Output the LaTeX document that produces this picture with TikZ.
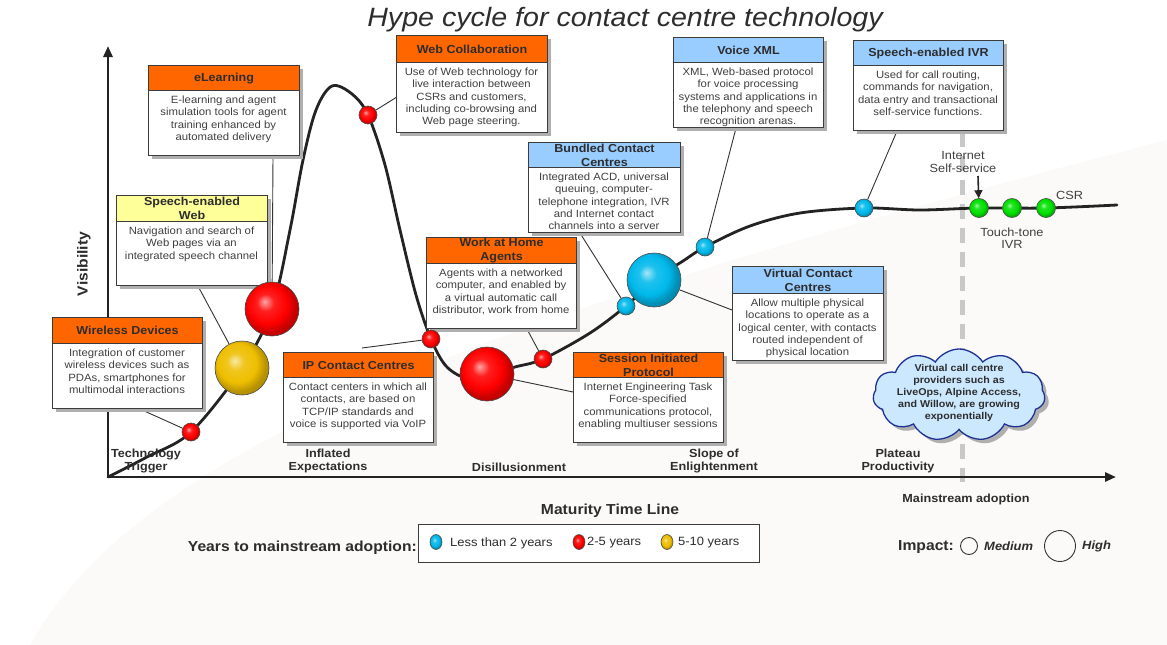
\documentclass[tikz,border=0pt]{standalone}
\usepackage{fontspec}
\setmainfont[FakeStretch=1.08]{Liberation Sans}
\usetikzlibrary{shapes.geometric,shapes.symbols,arrows.meta,calc}
\definecolor{orangeT}{RGB}{255,102,0}
\definecolor{blueT}{RGB}{153,204,255}
\definecolor{yellowT}{RGB}{255,255,153}
\definecolor{boxline}{RGB}{60,60,60}
\definecolor{txt}{RGB}{64,64,64}
\definecolor{ttxt}{RGB}{45,45,45}
\definecolor{shadowc}{RGB}{175,175,175}
\definecolor{bgc}{RGB}{251,250,248}
\definecolor{ballred}{RGB}{255,0,0}
\definecolor{ballyel}{RGB}{238,190,0}
\definecolor{ballcyan}{RGB}{0,185,235}
\definecolor{ballgreen}{RGB}{0,225,0}
\definecolor{cloudfill}{RGB}{204,232,255}
\definecolor{cloudline}{RGB}{30,50,150}
\definecolor{dashc}{RGB}{200,200,200}
\definecolor{curvec}{RGB}{35,35,35}
\pgfdeclarelayer{back}
\pgfdeclarelayer{lines}
\pgfsetlayers{back,lines,main}
\makeatletter
\pgfdeclareradialshading[tikz@ball]{glossball}{\pgfqpoint{-7bp}{7bp}}{%
  color(0bp)=(tikz@ball!35!white);
  color(8bp)=(tikz@ball!88!white);
  color(18bp)=(tikz@ball);
  color(25bp)=(tikz@ball!78!black);
  color(50bp)=(tikz@ball!50!black)}
\makeatother

\newcommand\infobox[9]{%
  \pgfmathsetmacro\bw{#3-#2}%
  \pgfmathsetmacro\th{#5-#4}%
  \pgfmathsetmacro\bh{#6-#5}%
  \pgfmathsetmacro\cx{(#2+#3)/2}%
  \fill[shadowc] (#2+4,#4+4) rectangle (#3+4,#6+4);
  \node[tband, fill=#7, minimum width=\bw pt, minimum height=\th pt, anchor=north west] (#1t) at (#2,#4) {};
  \node[bbox, minimum width=\bw pt, minimum height=\bh pt, anchor=north west] (#1) at (#2,#5) {};
  \node[ttext] (#1tt) at (#1t.center) {#8};
  \node[btext, anchor=north] (#1bt) at (\cx,#5+5.5) {#9};
}

\begin{document}
\begin{tikzpicture}[x=1pt,y=-1pt,
  tband/.style={draw=boxline, line width=1.1pt, inner sep=0},
  bbox/.style={draw=boxline, line width=1.1pt, fill=white, inner sep=0},
  ttext/.style={font=\fontsize{11.6}{14}\selectfont\bfseries, text=ttxt, align=center, inner sep=0},
  btext/.style={font=\fontsize{10.5}{12.4}\selectfont, text=txt, align=center, inner sep=0},
  hball/.style={circle, ball color=#1, shading=glossball, draw=black!70, line width=0.6pt, inner sep=0},
  smallb/.style={hball=#1, minimum size=18pt},
  bigb/.style={hball=#1, minimum size=54pt},
  conn/.style={draw=black!80, line width=0.9pt},
  ptext/.style={font=\fontsize{11.7}{12.5}\selectfont\bfseries, text=ttxt, align=center, inner sep=0},
  ltext/.style={font=\fontsize{12}{14}\selectfont, text=ttxt, inner sep=0},
  lbold/.style={font=\fontsize{14.5}{16}\selectfont\bfseries, text=ttxt, inner sep=0},
  stext/.style={font=\fontsize{11.8}{12.5}\selectfont, text=txt, align=center, inner sep=0},
  lmark/.style={ellipse, ball color=#1, shading=glossball, draw=black!70, line width=0.6pt, inner sep=0, minimum width=12pt, minimum height=15pt}
]
\useasboundingbox (0,0) rectangle (1167,645);

\begin{pgfonlayer}{back}
\fill[white] (0,0) rectangle (1167,645);
\fill[bgc] (0,645) -- (30,645) .. controls (150,430) and (550,300) .. (1167,140) -- (1167,645) -- cycle;
\end{pgfonlayer}

% title
\node[font=\fontsize{26.5}{30}\selectfont\itshape, text=ttxt, inner sep=0] (title) at (625,20) {Hype cycle for contact centre technology};

% info boxes
\infobox{elearn}{148}{299}{65}{90}{155}{orangeT}{eLearning}{E-learning and agent\\simulation tools for agent\\training enhanced by\\automated delivery}
\infobox{sweb}{116}{267}{195}{221}{285}{yellowT}{Speech-enabled\\Web}{Navigation and search of\\Web pages via an\\integrated speech channel}
\infobox{wless}{52}{202}{317}{343}{408}{orangeT}{Wireless Devices}{Integration of customer\\wireless devices such as\\PDAs, smartphones for\\multimodal interactions}
\infobox{wcol}{396}{547}{35}{62}{132}{orangeT}{Web Collaboration}{Use of Web technology for\\live interaction between\\CSRs and customers,\\including co-browsing and\\Web page steering.}
\infobox{ipcc}{283}{433}{352}{377}{442}{orangeT}{IP Contact Centres}{Contact centers in which all\\contacts, are based on\\TCP/IP standards and\\voice is supported via VoIP}
\infobox{wah}{426}{576}{237}{263}{328}{orangeT}{Work at Home\\Agents}{Agents with a networked\\computer, and enabled by\\a virtual automatic call\\distributor, work from home}
\infobox{sip}{573}{723}{352}{377}{442}{orangeT}{Session Initiated\\Protocol}{Internet Engineering Task\\Force-specified\\communications protocol,\\enabling multiuser sessions}
\infobox{vcc}{732}{883}{266}{293}{360}{blueT}{Virtual Contact\\Centres}{Allow multiple physical\\locations to operate as a\\logical center, with contacts\\routed independent of\\physical location}
\infobox{bcc}{528}{680}{142}{167}{232}{blueT}{Bundled Contact\\Centres}{Integrated ACD, universal\\queuing, computer-\\telephone integration, IVR\\and Internet contact\\channels into a server}
\infobox{vxml}{673}{823}{37}{62}{127}{blueT}{Voice XML}{XML, Web-based protocol\\for voice processing\\systems and applications in\\the telephony and speech\\recognition arenas.}
\infobox{sivr}{853}{1003}{40}{65}{130}{blueT}{Speech-enabled IVR}{Used for call routing,\\commands for navigation,\\data entry and transactional\\self-service functions.}

% balls
\node[smallb=ballred] (b1) at (191,432) {};
\node[bigb=ballyel] (b2) at (242,368) {};
\node[bigb=ballred] (b3) at (272,309) {};
\node[smallb=ballred] (b4) at (368,115) {};
\node[smallb=ballred] (b5) at (431,339) {};
\node[bigb=ballred] (b6) at (487,374) {};
\node[smallb=ballred] (b7) at (543,359) {};
\node[smallb=ballcyan] (b8) at (626,306) {};
\node[bigb=ballcyan] (b9) at (654,280) {};
\node[smallb=ballcyan] (b10) at (705,247) {};
\node[smallb=ballcyan] (b11) at (864,208) {};
\node[hball=ballgreen, minimum size=19pt] (g1) at (979,208) {};
\node[hball=ballgreen, minimum size=19pt] (g2) at (1012,208) {};
\node[hball=ballgreen, minimum size=19pt] (g3) at (1046,208) {};

% axes and lines
\coordinate (orig) at (108,477);
\coordinate (ytip) at (108,46);
\coordinate (xtip) at (1116,477);
\coordinate (dtop) at (962,132);
\coordinate (dbot) at (962,482);
\coordinate (ipend) at (362,348);
\coordinate (arst) at (978,176);
\begin{pgfonlayer}{lines}
\draw[dashc, line width=5pt, dash pattern=on 15pt off 9pt] (dtop) -- (dbot);
\draw[curvec, line width=2.8pt, -{Triangle[length=11pt,width=9pt]}] (orig) -- (ytip);
\draw[curvec, line width=2.8pt, -{Triangle[length=11pt,width=9pt]}] (orig) -- (xtip);
\draw[conn] ([xshift=125pt]elearn.south west) -- (b3);
\draw[conn] ([xshift=82pt]sweb.south west) -- (b2);
\draw[conn] ([xshift=88pt]wless.south west) -- (b1);
\draw[conn] (wcol.west) -- (b4);
\draw[conn] (ipend) -- (b5);
\draw[conn] ([xshift=101pt]wah.south west) -- (b7);
\draw[conn] (b6) -- ([yshift=-15pt]sip.north west);
\draw[conn] ([xshift=52pt]bcc.south west) -- (b8);
\draw[conn] ([xshift=63pt]vxml.south west) -- (b10);
\draw[conn] (b9) -- ([yshift=-17pt]vcc.north west);
\draw[conn] ([xshift=44pt]sivr.south west) -- (b11);
\draw[curvec, line width=2.8pt, line cap=round] plot[smooth, tension=0.55] coordinates {(108,477) (147,457) (191,432) (242,368) (272,309) (290,230) (303,160) (316,110) (332,86) (352,94) (368,115) (385,165) (400,230) (416,295) (431,339) (446,366) (466,378) (487,375) (515,367) (543,359) (590,333) (626,306) (654,280) (683,261) (705,247) (750,226) (800,213) (864,208) (920,210) (979,208) (1046,208) (1117,205)};
\draw[black!85, line width=1.6pt, -{Triangle[length=8pt,width=8pt]}] (arst) -- (g1);
\end{pgfonlayer}

% labels near plateau
\node[stext] (inet) at (963,162) {Internet\\Self-service};
\node[stext, anchor=west] (csr) at (1056,195) {CSR};
\node[stext] (ttivr) at (1012,238) {Touch-tone\\IVR};

% cloud
\node[cloud, cloud puffs=11, cloud puff arc=115, aspect=2, minimum width=172pt, minimum height=92pt, inner sep=0, fill=shadowc] (cls) at (963,399) {};
\node[cloud, cloud puffs=11, cloud puff arc=115, aspect=2, minimum width=172pt, minimum height=92pt, inner sep=0, fill=cloudfill, draw=cloudline, line width=1.3pt] (cl) at (959,395) {};
\node[font=\fontsize{9.9}{12.2}\selectfont\bfseries, text=ttxt, align=center, inner sep=0] (clt) at (959,393) {Virtual call centre\\providers such as\\LiveOps, Alpine Access,\\and Willow, are growing\\exponentially};

% axis labels
\node[lbold, rotate=90] (vis) at (84,264) {Visibility};
\node[ptext] (ph1) at (146,461) {Technology\\Trigger};
\node[ptext] (ph2) at (328,461) {Inflated\\Expectations};
\node[ptext] (ph3) at (519,467) {Disillusionment};
\node[ptext] (ph4) at (714,461) {Slope of\\Enlightenment};
\node[ptext] (ph5) at (898,461) {Plateau\\Productivity};
\node[ptext] (mad) at (966,499) {Mainstream adoption};
\node[lbold] (mtl) at (610,511) {Maturity Time Line};

% legend
\node[lbold, anchor=east] (ytm) at (417,548) {Years to mainstream adoption:};
\node[draw=boxline, line width=0.9pt, fill=white, minimum width=341pt, minimum height=38pt, inner sep=0] (leg) at (588.5,543) {};
\node[lmark=ballcyan] (lm1) at (436,542) {};
\node[ltext, anchor=west] (lt1) at (450,543) {Less than 2 years};
\node[lmark=ballred] (lm2) at (579,542) {};
\node[ltext, anchor=west] (lt2) at (587,543) {2-5 years};
\node[lmark=ballyel] (lm3) at (667,542) {};
\node[ltext, anchor=west] (lt3) at (678,543) {5-10 years};

\node[lbold, anchor=west] (imp) at (898,547) {Impact:};
\node[circle, draw=black!80, line width=0.9pt, minimum size=17pt, inner sep=0] (imed) at (969,546) {};
\node[font=\fontsize{12}{14}\selectfont\bfseries\itshape, text=ttxt, anchor=west, inner sep=0] (tmed) at (984,546) {Medium};
\node[circle, draw=black!80, line width=0.9pt, minimum size=31pt, inner sep=0] (ihigh) at (1060,546) {};
\node[font=\fontsize{12}{14}\selectfont\bfseries\itshape, text=ttxt, anchor=west, inner sep=0] (thigh) at (1082,546) {High};
\end{tikzpicture}
\end{document}
